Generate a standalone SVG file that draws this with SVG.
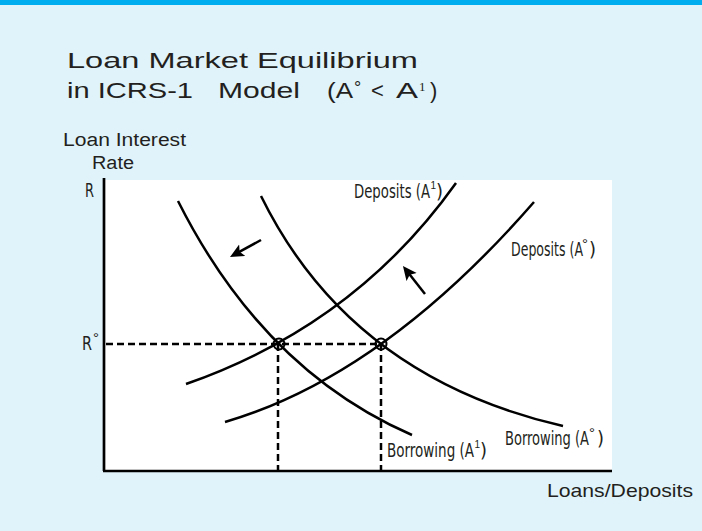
<svg xmlns="http://www.w3.org/2000/svg" width="702" height="531" viewBox="0 0 702 531">
<style>
.hel{font-family:"Liberation Sans",Arial,sans-serif;fill:#231F20}
.cond{font-family:"Liberation Sans Narrow","DejaVu Sans Condensed","Liberation Sans",sans-serif;fill:#231F20;font-size:20px}
.sup{font-family:"Liberation Sans",sans-serif;fill:#231F20}
.curve{fill:none;stroke:#000;stroke-width:2.5;stroke-linecap:butt}
.dash{fill:none;stroke:#000;stroke-width:2.5;stroke-dasharray:7 4}
.axis{fill:none;stroke:#000;stroke-width:2.7}
.arrow{fill:none;stroke:#000;stroke-width:2.5}
</style>
<defs>
<marker id="ah" markerUnits="userSpaceOnUse" markerWidth="16" markerHeight="14" refX="6" refY="6.5" orient="auto">
<path d="M0,0 L14,6.5 L0,13 L3,6.5 Z" fill="#000"/>
</marker>
</defs>
<rect x="0" y="0" width="702" height="531" fill="#E0F3FA"/>
<rect x="0" y="0" width="702" height="5" fill="#00AEEF"/>
<g id="title">
<text class="hel" font-size="22" x="67" y="68" textLength="351" lengthAdjust="spacingAndGlyphs">Loan Market Equilibrium</text>
<text class="hel" font-size="22" y="98"><tspan x="67" textLength="126" lengthAdjust="spacingAndGlyphs">in ICRS-1</tspan><tspan x="218" textLength="82" lengthAdjust="spacingAndGlyphs">Model</tspan><tspan x="327" textLength="26" lengthAdjust="spacingAndGlyphs">(A</tspan><tspan x="354" y="94" font-size="18">°</tspan><tspan x="371" y="98">&lt;</tspan><tspan x="396" y="98" textLength="22" lengthAdjust="spacingAndGlyphs">A</tspan><tspan x="419" y="91" font-size="13" font-family="Liberation Serif, serif">1</tspan><tspan x="430" y="98">)</tspan></text>
</g>
<rect id="plot" x="104" y="180" width="508" height="291" fill="#FFFFFF"/>
<g id="axes">
<line class="axis" x1="104" y1="178" x2="104" y2="471"/>
<line class="axis" x1="103" y1="471" x2="612" y2="471"/>
<text class="hel" font-size="18" x="63" y="146" textLength="123" lengthAdjust="spacingAndGlyphs">Loan Interest</text>
<text class="hel" font-size="18" x="92" y="169" textLength="42" lengthAdjust="spacingAndGlyphs">Rate</text>
<text class="hel" font-size="19" x="547" y="497" textLength="146" lengthAdjust="spacingAndGlyphs">Loans/Deposits</text>
<text class="cond" x="85" y="197" textLength="9" lengthAdjust="spacingAndGlyphs">R</text>
<text class="cond" y="350"><tspan x="82" textLength="10" lengthAdjust="spacingAndGlyphs">R</tspan><tspan class="sup" x="93" y="343" font-size="15">°</tspan></text>
</g>
<g id="connectors">
<line class="dash" x1="106" y1="344" x2="381" y2="344"/>
<line class="dash" x1="278" y1="344" x2="278" y2="471"/>
<line class="dash" x1="381" y1="344" x2="381" y2="471"/>
<line class="arrow" x1="261" y1="240" x2="237" y2="253.2" marker-end="url(#ah)"/>
<line class="arrow" x1="425" y1="294" x2="407.9" y2="272.3" marker-end="url(#ah)"/>
</g>
<g id="borrowing-a1">
<path class="curve" d="M178,201 Q263,370 412,435"/>
<text class="cond" y="457"><tspan x="387" textLength="87" lengthAdjust="spacingAndGlyphs">Borrowing (A</tspan><tspan class="sup" x="474.5" y="448" font-size="10">1</tspan><tspan x="480" y="457">)</tspan></text>
</g>
<g id="borrowing-a0">
<path class="curve" d="M261,196 Q350,377 563,426"/>
<text class="cond" y="445"><tspan x="505" textLength="84" lengthAdjust="spacingAndGlyphs">Borrowing (A</tspan><tspan class="sup" x="589" y="438" font-size="15">°</tspan><tspan x="597" y="445">)</tspan></text>
</g>
<g id="deposits-a1">
<path class="curve" d="M186,384 Q355,325 456,183"/>
<text class="cond" y="198"><tspan x="354" textLength="76" lengthAdjust="spacingAndGlyphs">Deposits (A</tspan><tspan class="sup" x="430.5" y="189" font-size="10">1</tspan><tspan x="436" y="198">)</tspan></text>
</g>
<g id="deposits-a0">
<path class="curve" d="M225,422 Q382.5,376 534,202"/>
<text class="cond" y="256"><tspan x="511" textLength="72" lengthAdjust="spacingAndGlyphs">Deposits (A</tspan><tspan class="sup" x="582" y="249" font-size="15">°</tspan><tspan x="589" y="256">)</tspan></text>
</g>
<g id="equilibrium-1">
<circle cx="279" cy="344" r="5.5" fill="none" stroke="#000" stroke-width="2"/>
</g>
<g id="equilibrium-2">
<circle cx="381" cy="344" r="5.5" fill="none" stroke="#000" stroke-width="2"/>
</g>
</svg>
